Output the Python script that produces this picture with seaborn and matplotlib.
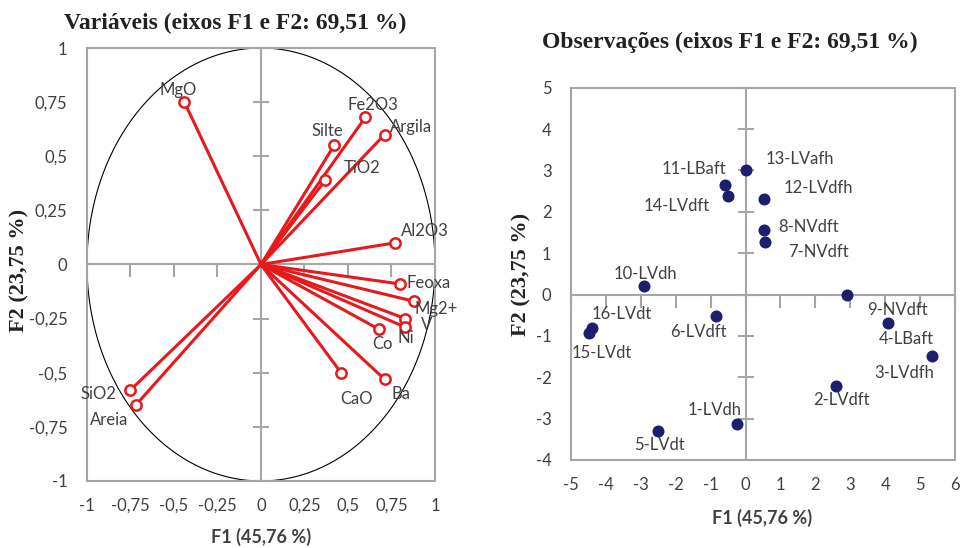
import numpy as np
import pandas as pd
import matplotlib
matplotlib.use("Agg")
import matplotlib.pyplot as plt
import seaborn as sns

# Loadings of the variables on the first two factors
variables = ["MgO", "Fe2O3", "Silte", "Argila", "TiO2", "Al2O3", "Feoxa", "Mg2+",
             "V", "Ni", "Co", "CaO", "Ba", "SiO2", "Areia"]
var_f1 = [-0.44, 0.60, 0.42, 0.71, 0.37, 0.77, 0.80, 0.88, 0.83, 0.83, 0.68, 0.46, 0.71, -0.75, -0.72]
var_f2 = [0.75, 0.68, 0.55, 0.60, 0.39, 0.10, -0.09, -0.17, -0.25, -0.29, -0.30, -0.50, -0.53, -0.58, -0.65]

# Scores of the observations
observations = ["1-LVdh", "2-LVdft", "3-LVdfh", "4-LBaft", "5-LVdt", "6-LVdft", "7-NVdft",
                "8-NVdft", "9-NVdft", "10-LVdh", "11-LBaft", "12-LVdfh", "13-LVafh",
                "14-LVdft", "15-LVdt", "16-LVdt"]
obs_f1 = [-0.23, 2.59, 5.34, 4.09, -2.50, -0.85, 0.56, 0.53, 2.90, -2.92, -0.60, 0.52, 0.01,
          -0.50, -4.49, -4.41]
obs_f2 = [-3.12, -2.22, -1.48, -0.70, -3.31, -0.53, 1.27, 1.56, -0.02, 0.21, 2.65, 2.31, 3.01,
          2.37, -0.92, -0.81]

var_ticks = [-1, -0.75, -0.5, -0.25, 0, 0.25, 0.5, 0.75, 1]
var_tick_labels = ["-1", "-0,75", "-0,5", "-0,25", "0", "0,25", "0,5", "0,75", "1"]
obs_xticks = list(range(-5, 7))
obs_yticks = list(range(-4, 6))

title_left = "Variáveis (eixos F1 e F2: 69,51 %)"
title_right = "Observações (eixos F1 e F2: 69,51 %)"
xlabel = "F1 (45,76 %)"
ylabel = "F2 (23,75 %)"

# Label placement (offsets in pixels from the marker)
var_offsets = {"MgO": (-6, 12), "Fe2O3": (7, 12), "Silte": (-7, 14), "Argila": (26, 8),
               "TiO2": (37, 12), "Al2O3": (30, 12), "Feoxa": (28, 1), "Mg2+": (22, -8),
               "V": (21, -6), "Ni": (0, -11), "Co": (3, -15), "CaO": (15, -26),
               "Ba": (16, -15), "SiO2": (-32, -4), "Areia": (-27, -15)}
obs_offsets = {"13-LVafh": (54, 11), "11-LBaft": (-31, 16), "14-LVdft": (-51, -10),
               "12-LVdfh": (55, 11), "8-NVdft": (45, 3), "7-NVdft": (53, -10),
               "10-LVdh": (2, 12), "16-LVdt": (30, 14), "15-LVdt": (13, -20),
               "6-LVdft": (-17, -16), "9-NVdft": (51, -15), "4-LBaft": (18, -16),
               "3-LVdfh": (-28, -17), "2-LVdft": (5, -14), "1-LVdh": (-23, 14),
               "5-LVdt": (1, -14)}

sns.set_theme(style="white")
SANS = ["Lato", "DejaVu Sans"]
SERIF = ["Liberation Serif", "DejaVu Serif"]
plt.rcParams["font.family"] = SANS

GRID = "#a6a6a6"
RED = "#e8191c"
NAVY = "#1c1f6b"
TXT = "#404040"

fig = plt.figure(figsize=(9.63, 5.48), dpi=100)
axL = fig.add_axes([0.0903, 0.1223, 0.3614, 0.7901])
axR = fig.add_axes([0.5929, 0.1606, 0.3988, 0.6794])


def frame(ax, xt, yt, xlab, ylab):
    for s in ax.spines.values():
        s.set_color(GRID)
        s.set_linewidth(1.5)
    ax.axhline(0, color=GRID, lw=1.5, zorder=1)
    ax.axvline(0, color=GRID, lw=1.5, zorder=1)
    # tick marks sit on the zero lines, labels stay on the frame
    ax.plot(xt, [0] * len(xt), ls="none", marker=3, ms=9, mew=1.5, color=GRID, zorder=1,
            clip_on=False)
    ax.plot([0] * len(yt), yt, ls="none", marker="_", ms=12, mew=1.5, color=GRID, zorder=1,
            clip_on=False)
    ax.set_xticks(xt)
    ax.set_yticks(yt)
    ax.set_xticklabels(xlab)
    ax.set_yticklabels(ylab)
    ax.tick_params(length=0, labelsize=12, labelcolor=TXT, pad=12)
    ax.tick_params(axis="y", pad=14)
    ax.grid(False)


# ---- Variables (correlation circle) ----
axL.set_xlim(-1, 1)
axL.set_ylim(-1, 1)
theta = np.linspace(0, 2 * np.pi, 400)
axL.plot(np.cos(theta), np.sin(theta), color="black", lw=0.8, zorder=2)
for x, y in zip(var_f1, var_f2):
    axL.plot([0, x], [0, y], color=RED, lw=2.2, zorder=3, solid_capstyle="butt")
df_var = pd.DataFrame({"F1": var_f1, "F2": var_f2, "name": variables})
sns.scatterplot(data=df_var, x="F1", y="F2", ax=axL, s=55, facecolor="white",
                edgecolor=RED, linewidth=1.8, zorder=4, legend=False)
for name, x, y in zip(variables, var_f1, var_f2):
    dx, dy = var_offsets[name]
    axL.annotate(name, (x, y), xytext=(dx, dy), textcoords="offset pixels",
                 ha="center", va="center", fontsize=12, color=TXT, zorder=5)
frame(axL, var_ticks, var_ticks, var_tick_labels, var_tick_labels)
axL.set_xlabel("")
axL.set_ylabel("")

# ---- Observations ----
axR.set_xlim(-5, 6)
axR.set_ylim(-4, 5)
df_obs = pd.DataFrame({"F1": obs_f1, "F2": obs_f2, "name": observations})
sns.scatterplot(data=df_obs, x="F1", y="F2", ax=axR, s=75, color=NAVY,
                edgecolor=NAVY, linewidth=0, zorder=4, legend=False)
for name, x, y in zip(observations, obs_f1, obs_f2):
    dx, dy = obs_offsets[name]
    axR.annotate(name, (x, y), xytext=(dx, dy), textcoords="offset pixels",
                 ha="center", va="center", fontsize=12, color=TXT, zorder=5)
frame(axR, obs_xticks, obs_yticks, [str(v) for v in obs_xticks], [str(v) for v in obs_yticks])
axR.set_xlabel("")
axR.set_ylabel("")

# ---- Titles and axis labels ----
fig.text(235 / 963, 1 - 23 / 548, title_left, ha="center", va="center",
         family=SERIF, weight="bold", fontsize=17, color="#222222")
fig.text(730 / 963, 1 - 42 / 548, title_right, ha="center", va="center",
         family=SERIF, weight="bold", fontsize=17, color="#222222")
fig.text(261 / 963, 1 - 537 / 548, xlabel, ha="center", va="center",
         weight="bold", fontsize=13, color=TXT)
fig.text(762 / 963, 1 - 518 / 548, xlabel, ha="center", va="center",
         weight="bold", fontsize=13, color=TXT)
fig.text(19 / 963, 1 - 270 / 548, ylabel, ha="center", va="center", rotation=90,
         family=SERIF, weight="bold", fontsize=16, color="#222222")
fig.text(521 / 963, 1 - 274 / 548, ylabel, ha="center", va="center", rotation=90,
         family=SERIF, weight="bold", fontsize=16, color="#222222")

fig.savefig("out.png", dpi=100)
